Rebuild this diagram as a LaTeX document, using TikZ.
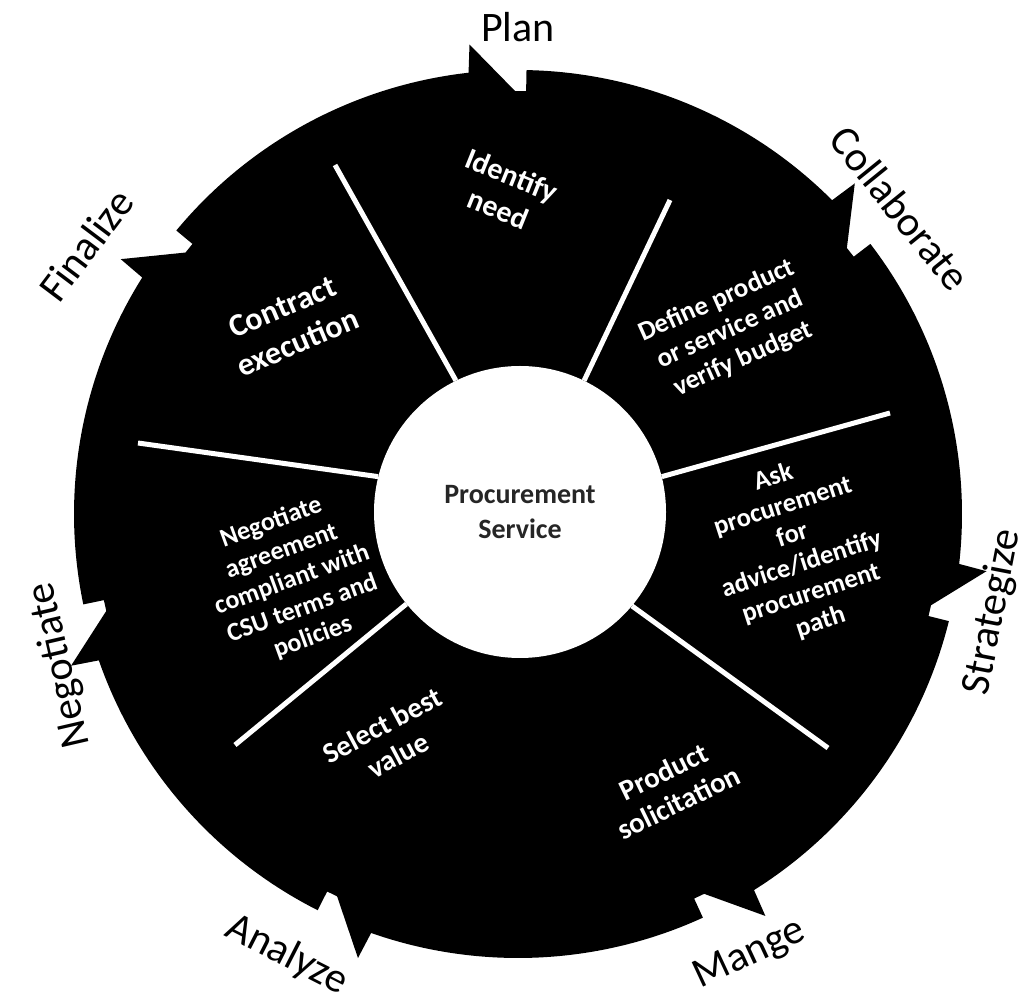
\documentclass[tikz,border=0pt]{standalone}
\usepackage{fontspec}
\setmainfont{Carlito}
\begin{document}
\begin{tikzpicture}[x=1pt,y=1pt,
  outerlbl/.style={font=\fontsize{42}{50}\selectfont, text=black, inner sep=0pt},
  innerlbl/.style={font=\bfseries\fontsize{29}{34}\selectfont, text=white, align=center, inner sep=0pt},
  divider/.style={white, line width=5pt}]
\useasboundingbox (0,0) rectangle (1028,1005);
% outer ring with arrow notches
\fill[black, shift={(518,491)}] (88.9:444)
  \foreach \t in {38.97,-12.46,-63.89,-115.32,-166.75,-218.18,-269.6} {
    arc[start angle=\t+49.93, end angle=\t+6, radius=444]
    -- (\t+5.5:472) -- (\t:423) -- (\t-1.5:423) -- (\t-1.5:444)
  } -- cycle;
% centre
\node[circle, fill=white, minimum size=292pt, inner sep=0pt,
      font=\bfseries\fontsize{28}{35}\selectfont, text=black!85, align=center]
      (ctr) at (520,493) {Procurement\\Service};
% dividers
\coordinate (e1) at (335,840);
\coordinate (e2) at (670,805);
\coordinate (e3) at (890,592);
\coordinate (e4) at (828,257);
\coordinate (e5) at (235,260);
\coordinate (e6) at (138,562);
\draw[divider] (ctr.116) -- (e1);
\draw[divider] (ctr.64.5) -- (e2);
\draw[divider] (ctr.14) -- (e3);
\draw[divider] (ctr.-40) -- (e4);
\draw[divider] (ctr.-141) -- (e5);
\draw[divider] (ctr.166) -- (e6);
% inner texts
\node[innerlbl, rotate=-22, font=\bfseries\fontsize{30}{36}\selectfont] (s1) at (505,813) {Identify\\need};
\node[innerlbl, rotate=24, font=\bfseries\fontsize{27}{32}\selectfont] (s2) at (730,675) {Define product\\or service and\\verify budget};
\node[innerlbl, rotate=18, font=\bfseries\fontsize{26.5}{30.5}\selectfont] (s3) at (797,455) {Ask\\procurement\\for\\advice/identify\\procurement\\path};
\node[innerlbl, rotate=26] (s4) at (671,218) {Product\\solicitation};
\node[innerlbl, rotate=28] (s5) at (390,265) {Select best\\value};
\node[innerlbl, rotate=20, font=\bfseries\fontsize{26}{30.5}\selectfont] (s6) at (292,425) {Negotiate\\agreement\\compliant with\\CSU terms and\\policies};
\node[innerlbl, rotate=23, font=\bfseries\fontsize{32}{39}\selectfont] (s7) at (290,680) {Contract\\execution};
% outer labels
\node[outerlbl] (l1) at (518,978) {Plan};
\node[outerlbl, rotate=-51] (l2) at (900,797) {Collaborate};
\node[outerlbl, rotate=79] (l3) at (993,393) {Strategize};
\node[outerlbl, rotate=25] (l4) at (750,50) {Mange};
\node[outerlbl, rotate=-27] (l5) at (287,50) {Analyze};
\node[outerlbl, rotate=103] (l6) at (60,340) {Negotiate};
\node[outerlbl, rotate=53] (l7) at (86,760) {Finalize};
\end{tikzpicture}
\end{document}
